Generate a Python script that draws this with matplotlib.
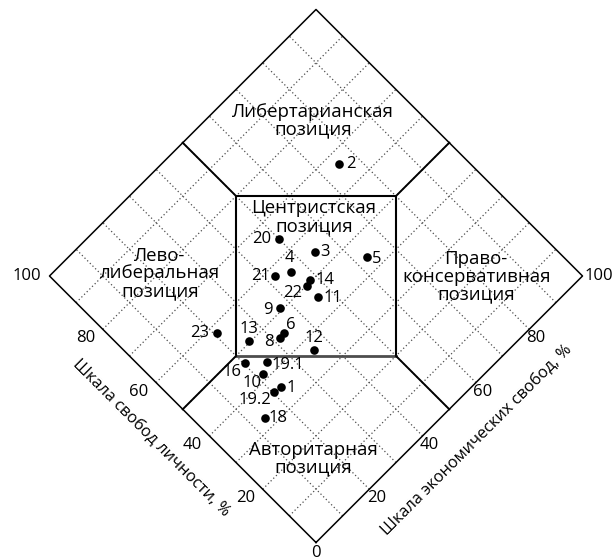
import matplotlib
matplotlib.use("Agg")
import matplotlib.pyplot as plt
import numpy as np

# Номера и оценки: свобода личности и экономическая свобода, %
names = ["1", "2", "3", "4", "5", "6", "8", "9", "10", "11", "12",
         "13", "14", "16", "18", "19.1", "19.2", "20", "21", "22", "23"]
personal = [35.8, 66.7, 54.6, 55.5, 44.1, 45.3, 45.2, 50.7, 41.5, 45.8, 36.5,
            50.4, 50.4, 47.0, 32.8, 43.0, 36.1, 63.8, 57.7, 49.9, 58.0]
economic = [22.7, 75.5, 54.3, 46.1, 63.1, 33.2, 31.7, 37.2, 21.7, 46.4, 35.7,
            25.2, 48.1, 20.4, 13.8, 24.7, 20.3, 50.0, 42.3, 46.4, 20.7]

ticks = [20, 40, 60, 80]

# сдвиги подписей точек (пиксели)
offs = {"1": (10, -1), "2": (11, 0), "3": (10, 0), "4": (-2, 14), "5": (10, -2),
        "6": (7, 8), "8": (-11, -4), "9": (-12, -2), "10": (-11, -9), "11": (15, -1),
        "12": (0, 12), "13": (0, 12), "14": (15, 0), "16": (-13, -9), "18": (13, 0),
        "19.1": (21, -3), "19.2": (-19, -8), "20": (-18, 0), "21": (-14, 0),
        "22": (-14, -7), "23": (-17, 0)}


def to_xy(p, e):
    p = np.asarray(p, dtype=float)
    e = np.asarray(e, dtype=float)
    return e - p, e + p


plt.rcParams['font.family'] = ['Open Sans', 'DejaVu Sans']
fs = 12
fz = 13.4

fig = plt.figure(figsize=(6.13, 5.59), dpi=100)
ax = fig.add_axes([0, 0, 1, 1])
ax.set_xlim(-118.57, 111.44)
ax.set_ylim(-6.19, 203.56)
ax.axis('off')

# сетка
for v in range(10, 100, 10):
    x, y = to_xy([v, v], [0, 100])
    ax.plot(x, y, color='0.3', lw=0.9, ls=(0, (1, 2)))
    x, y = to_xy([0, 100], [v, v])
    ax.plot(x, y, color='0.3', lw=0.9, ls=(0, (1, 2)))

# ромб
x, y = to_xy([0, 100, 100, 0, 0], [0, 0, 100, 100, 0])
ax.plot(x, y, color='black', lw=1.1)

# центральный квадрат
x, y = to_xy([50, 80, 50, 20], [20, 50, 80, 50])
ax.plot(x, y, color='black', lw=1.5)
x, y = to_xy([50, 20], [20, 50])
ax.plot(x, y, color='0.3', lw=2.0)

# разделители
for (p0, e0), (p1, e1) in [((80, 50), (100, 50)), ((50, 80), (50, 100)),
                           ((50, 20), (50, 0)), ((20, 50), (0, 50))]:
    x, y = to_xy([p0, p1], [e0, e1])
    ax.plot(x, y, color='black', lw=1.4)

# точки
px, py = to_xy(personal, economic)
ax.plot(px, py, 'o', color='black', ms=6.2, mec='none', zorder=5)
for n, xx, yy in zip(names, px, py):
    ax.annotate(n, (xx, yy), xytext=offs[n], textcoords='offset pixels',
                ha='center', va='center', fontsize=fs)

# подписи шкал
for t in ticks:
    ax.annotate(str(t), to_xy(t, 0), xytext=(-17, -9), textcoords='offset pixels',
                ha='center', va='center', fontsize=fs)
    ax.annotate(str(t), to_xy(0, t), xytext=(7, -9), textcoords='offset pixels',
                ha='center', va='center', fontsize=fs)
ax.annotate("100", to_xy(100, 0), xytext=(-23, 0), textcoords='offset pixels',
            ha='center', va='center', fontsize=fs)
ax.annotate("100", to_xy(0, 100), xytext=(16, 0), textcoords='offset pixels',
            ha='center', va='center', fontsize=fs)
ax.annotate("0", to_xy(0, 0), xytext=(0, -10), textcoords='offset pixels',
            ha='center', va='center', fontsize=fs)

ax.text(*to_xy(50.5, -11.3), "Шкала свобод личности, %", rotation=-45,
        ha='center', va='center', fontsize=11.8, rotation_mode='anchor')
ax.text(*to_xy(-11, 49.5), "Шкала экономических свобод, %", rotation=45,
        ha='center', va='center', fontsize=11.8, rotation_mode='anchor')

# зоны: каждая строка отдельно
step = 6.6
zones = [(-1, 161.6, ["Либертарианская", "позиция"]),
         (-0.8, 125.4, ["Центристская", "позиция"]),
         (-58.6, 107.6, ["Лево-", "либеральная", "позиция"]),
         (60.1, 106.4, ["Право-", "консервативная", "позиция"]),
         (-0.9, 34.7, ["Авторитарная", "позиция"])]
for zx, zy, lines in zones:
    for i, line in enumerate(lines):
        ax.text(zx, zy - i * step, line, ha='center', va='center', fontsize=fz)

fig.savefig("out.png", dpi=100)
